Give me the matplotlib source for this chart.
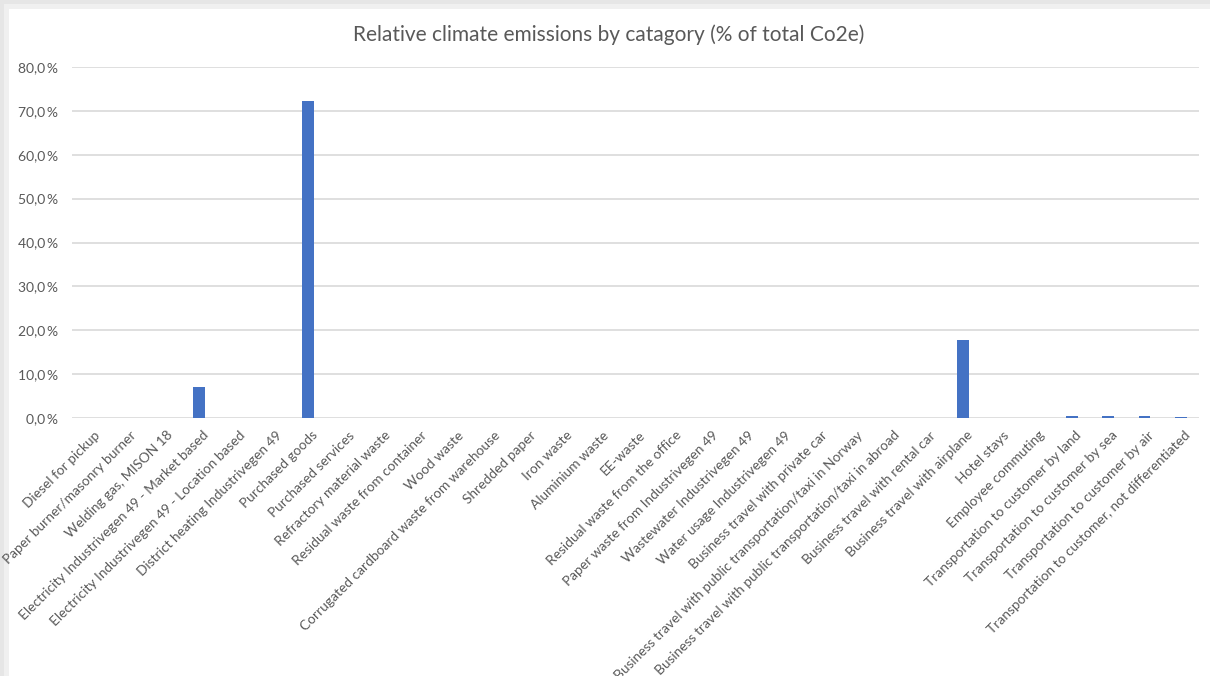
import matplotlib
matplotlib.use("Agg")
import matplotlib.pyplot as plt
import matplotlib.transforms as mtransforms
from matplotlib.patches import Rectangle
from matplotlib.ticker import FuncFormatter, MultipleLocator

categories = [
    "Diesel for pickup",
    "Paper burner/masonry burner",
    "Welding gas, MISON 18",
    "Electricity Industrivegen 49 - Market based",
    "Electricity Industrivegen 49 - Location based",
    "District heating Industrivegen 49",
    "Purchased goods",
    "Purchased services",
    "Refractory material waste",
    "Residual waste from container",
    "Wood waste",
    "Corrugated cardboard waste from warehouse",
    "Shredded paper",
    "Iron waste",
    "Aluminium waste",
    "EE-waste",
    "Residual waste from the office",
    "Paper waste from Industrivegen 49",
    "Wastewater Industrivegen 49",
    "Water usage Industrivegen 49",
    "Business travel with private car",
    "Business travel with public transportation/taxi in Norway",
    "Business travel with public transportation/taxi in abroad",
    "Business travel with rental car",
    "Business travel with airplane",
    "Hotel stays",
    "Employee commuting",
    "Transportation to customer by land",
    "Transportation to customer by sea",
    "Transportation to customer by air",
    "Transportation to customer, not differentiated",
]

share_pct = [
    0.0, 0.0, 0.0, 7.0, 0.0, 0.0, 72.2, 0.0, 0.0, 0.0,
    0.0, 0.0, 0.0, 0.0, 0.0, 0.0, 0.0, 0.0, 0.0, 0.0,
    0.0, 0.0, 0.0, 0.0, 17.8, 0.0, 0.0, 0.5, 0.5, 0.5,
    0.3,
]

title = "Relative climate emissions by catagory (% of total Co2e)"

plt.rcParams["font.family"] = ["Lato", "DejaVu Sans"]
text_gray = "#595959"

fig = plt.figure(figsize=(12.10, 6.76), dpi=100)
fig.patch.set_facecolor("#e6e6e6")
# white chart card with a soft grey border on the top/left
fig.add_artist(Rectangle((4 / 1210, 0), 1 - 4 / 1210, 1 - 4 / 676,
                         transform=fig.transFigure, facecolor="#f0f0f0",
                         edgecolor="none", zorder=0))
fig.add_artist(Rectangle((9 / 1210, 0), 1 - 9 / 1210, 1 - 9 / 676,
                         transform=fig.transFigure, facecolor="white",
                         edgecolor="none", zorder=0))

ax = fig.add_axes([72 / 1210, 1 - 418 / 676, (1199 - 72) / 1210, (418 - 67) / 676])
ax.set_facecolor("none")

x = list(range(len(categories)))
ax.bar(x, share_pct, width=0.32, color="#4472c4", zorder=3)

ax.set_xlim(-0.5, len(categories) - 0.5)
ax.set_ylim(0, 80)
ax.yaxis.set_major_locator(MultipleLocator(10))
ax.yaxis.set_major_formatter(FuncFormatter(lambda v, _: f"{v:.1f}".replace(".", ",") + "\u2009%"))
ax.grid(axis="y", color="#d9d9d9", linewidth=1.2, zorder=0)
ax.set_axisbelow(True)
for s in ax.spines.values():
    s.set_visible(False)

ax.tick_params(axis="y", length=0, pad=10, labelsize=10, labelcolor=text_gray)
ax.tick_params(axis="x", length=0, pad=2)
ax.set_xticks(x)
ax.set_xticklabels(categories, rotation=45, ha="right", va="top",
                   rotation_mode="anchor", fontsize=9.9, color=text_gray)
offset = mtransforms.ScaledTranslation(2.5 / 72, -6 / 72, fig.dpi_scale_trans)
for lbl in ax.get_xticklabels():
    lbl.set_transform(lbl.get_transform() + offset)

fig.text(609 / 1210, 1 - 35 / 676, title, ha="center", va="center",
         fontsize=15, color=text_gray)

fig.savefig("out.png", dpi=100, facecolor=fig.get_facecolor())
